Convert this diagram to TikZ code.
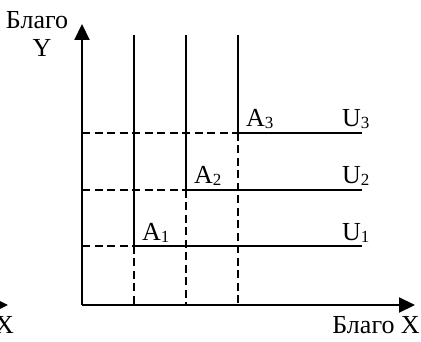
\documentclass[tikz,border=0pt]{standalone}
\usepackage{fontspec}
\setmainfont{Liberation Serif}
\usetikzlibrary{arrows.meta}
\begin{document}
\begin{tikzpicture}[x=1pt,y=-1pt,
  ax/.style={line width=2.2pt,-{Triangle[length=16pt,width=15pt]}},
  sol/.style={line width=2.6pt},
  dsh/.style={line width=2pt,dash pattern=on 8pt off 4.5pt},
  lab/.style={font=\fontsize{26}{26}\selectfont, inner sep=0pt}]
\newcommand{\sbx}[1]{\raisebox{-1.5pt}{\fontsize{17}{17}\selectfont #1}}
\useasboundingbox (0,0) rectangle (421,342);
\clip (0,0) rectangle (421,342);
\coordinate (O) at (82,305);
\coordinate (Ytip) at (82,24);
\coordinate (Xtip) at (415,305);
% corners
\coordinate (C1) at (134,246);
\coordinate (C2) at (186,190);
\coordinate (C3) at (238,133);
\coordinate (T1) at (134,35);
\coordinate (T2) at (186,35);
\coordinate (T3) at (238,35);
\coordinate (E1) at (362,246);
\coordinate (E2) at (362,190);
\coordinate (E3) at (362,133);
\coordinate (L1) at (82,246);
\coordinate (L2) at (82,190);
\coordinate (L3) at (82,133);
\coordinate (B1) at (134,305);
\coordinate (B2) at (186,305);
\coordinate (B3) at (238,305);
% dashed
\draw[dsh] (L1) -- (C1);
\draw[dsh] (L2) -- (C2);
\draw[dsh] (L3) -- (C3);
\draw[dsh] (C1) -- (B1);
\draw[dsh] (C2) -- (B2);
\draw[dsh] (C3) -- (B3);
% curves
\draw[sol] (T1) -- (C1) -- (E1);
\draw[sol] (T2) -- (C2) -- (E2);
\draw[sol] (T3) -- (C3) -- (E3);
% axes
\draw[ax] (O) -- (Ytip);
\draw[ax] (O) -- (Xtip);
% partial arrow at left edge
\coordinate (Pa) at (-20,305);
\coordinate (Pb) at (8,305);
\draw[ax] (Pa) -- (Pb);
% labels
\node[lab] (by) at (37,20) {Благо};
\node[lab] (yy) at (42,48) {Y};
\node[lab,anchor=base east] (bx) at (420,334) {Благо X};
\node[lab,anchor=base east] (xx) at (14,334) {X};
\node[lab,anchor=base west] (a1) at (142,241) {A\sbx{1}};
\node[lab,anchor=base west] (a2) at (194,184) {A\sbx{2}};
\node[lab,anchor=base west] (a3) at (246,127) {A\sbx{3}};
\node[lab,anchor=base west] (u1) at (342,241) {U\sbx{1}};
\node[lab,anchor=base west] (u2) at (342,184) {U\sbx{2}};
\node[lab,anchor=base west] (u3) at (342,127) {U\sbx{3}};
\end{tikzpicture}
\end{document}
